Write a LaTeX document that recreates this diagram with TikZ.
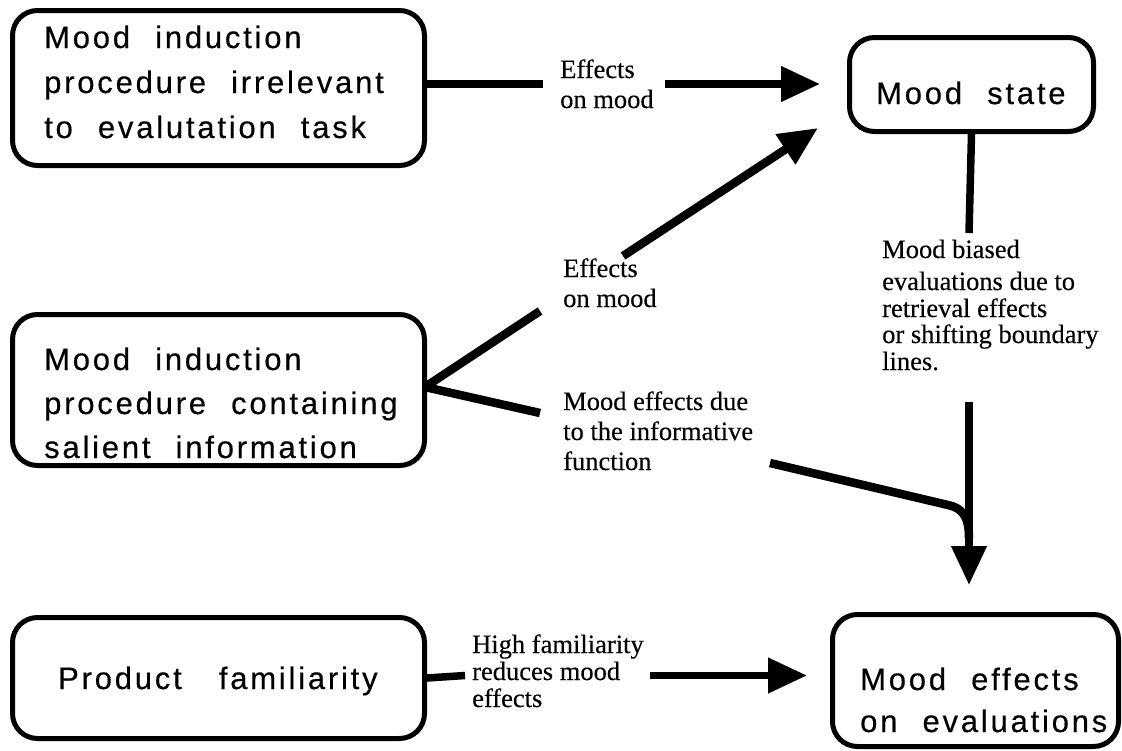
\documentclass[tikz,border=0pt]{standalone}
\usepackage{fontspec}
\usetikzlibrary{arrows.meta}
\newfontfamily\boxfont[LetterSpace=9,WordSpace=2.2,FakeBold=0.4]{Liberation Sans}
\newfontfamily\labfont[FakeBold=0.3]{Liberation Serif}
\tikzset{
  boxst/.style={draw, line width=5pt, rounded corners=25pt, rectangle, inner sep=0pt, anchor=north west},
  btxt/.style={font=\boxfont\fontsize{31pt}{34pt}\selectfont, inner sep=0pt, anchor=base west},
  ltxt/.style={font=\labfont\fontsize{26.5pt}{28pt}\selectfont, inner sep=0pt, anchor=base west},
  conn/.style={line width=7.5pt},
  dconn/.style={line width=8.5pt},
  arr/.style={-{Triangle[length=39pt,width=34pt]}}
}
\begin{document}
\begin{tikzpicture}[x=1pt,y=-1pt]
\fill[white] (0,0) rectangle (1122,750);
\useasboundingbox (0,0) rectangle (1122,750);
% boxes
\node[boxst, minimum width=412pt, minimum height=155pt] (b1) at (10,8) {};
\node[boxst, minimum width=412pt, minimum height=151pt] (b2) at (10,312) {};
\node[boxst, minimum width=412pt, minimum height=121pt] (b3) at (10,615) {};
\node[boxst, minimum width=244pt, minimum height=94pt] (ms) at (847,35) {};
\node[boxst, minimum width=286pt, minimum height=132pt] (me) at (830,612) {};
% box texts
\node[btxt] (t1a) at (44,48) {Mood induction};
\node[btxt] (t1b) at (44,93) {procedure irrelevant};
\node[btxt] (t1c) at (44,138) {to evalutation task};
\node[btxt] (t2a) at (44,370) {Mood induction};
\node[btxt] (t2b) at (44,414) {procedure containing};
\node[btxt] (t2c) at (44,458) {salient information};
\node[btxt] (t3a) at (58,689) {Product\hspace{12pt} familiarity};
\node[btxt] (tms) at (876,104) {Mood state};
\node[btxt] (tme1) at (860,690) {Mood effects};
\node[btxt] (tme2) at (860,732) {on evaluations};
% labels
\node[ltxt] (l1a) at (560,78) {Effects};
\node[ltxt] (l1b) at (560,108) {on mood};
\node[ltxt] (l2a) at (563,277) {Effects};
\node[ltxt] (l2b) at (563,307) {on mood};
\node[ltxt] (l3a) at (563,410) {Mood effects due};
\node[ltxt] (l3b) at (563,440) {to the informative};
\node[ltxt] (l3c) at (563,470) {function};
\node[ltxt] (l4a) at (882,258) {Mood biased};
\node[ltxt] (l4b) at (882,290) {evaluations due to};
\node[ltxt] (l4c) at (882,317) {retrieval effects};
\node[ltxt] (l4d) at (882,343) {or shifting boundary};
\node[ltxt] (l4e) at (882,370) {lines.};
\node[ltxt] (l5a) at (472,653) {High familiarity};
\node[ltxt] (l5b) at (472,680) {reduces mood};
\node[ltxt] (l5c) at (472,707) {effects};
% connector break points
\coordinate (c1a) at (543,84);
\coordinate (c1b) at (665,84);
\coordinate (c1t) at (820,84);
\coordinate (j2) at (425,387);
\coordinate (c2a) at (540,311);
\coordinate (c2b) at (623,256);
\coordinate (c2t) at (818,128);
\coordinate (c3a) at (540,413);
\coordinate (c3b) at (770,463);
\coordinate (c3c) at (948,505);
\coordinate (c3d) at (969,538);
\coordinate (c4a) at (969,233);
\coordinate (c4b) at (969,402);
\coordinate (c4t) at (969,585);
\coordinate (c5a) at (465,675.5);
\coordinate (c5b) at (650,675.5);
\coordinate (c5t) at (807,675.5);
% connectors
\draw[conn] (b1.east |- c1a) -- (c1a);
\draw[conn, arr] (c1b) -- (c1t);
\draw[dconn] (j2) -- (c2a);
\draw[dconn, arr] (c2b) -- (c2t);
\draw[dconn] (j2) -- (c3a);
\draw[dconn] (c3b) -- (c3c) .. controls (962,508) and (969,516) .. (c3d);
\draw[conn] (ms.south) -- (c4a);
\draw[conn, arr] (c4b) -- (c4t);
\draw[conn] (b3.east) -- (c5a);
\draw[conn, arr] (c5b) -- (c5t);
\end{tikzpicture}
\end{document}
